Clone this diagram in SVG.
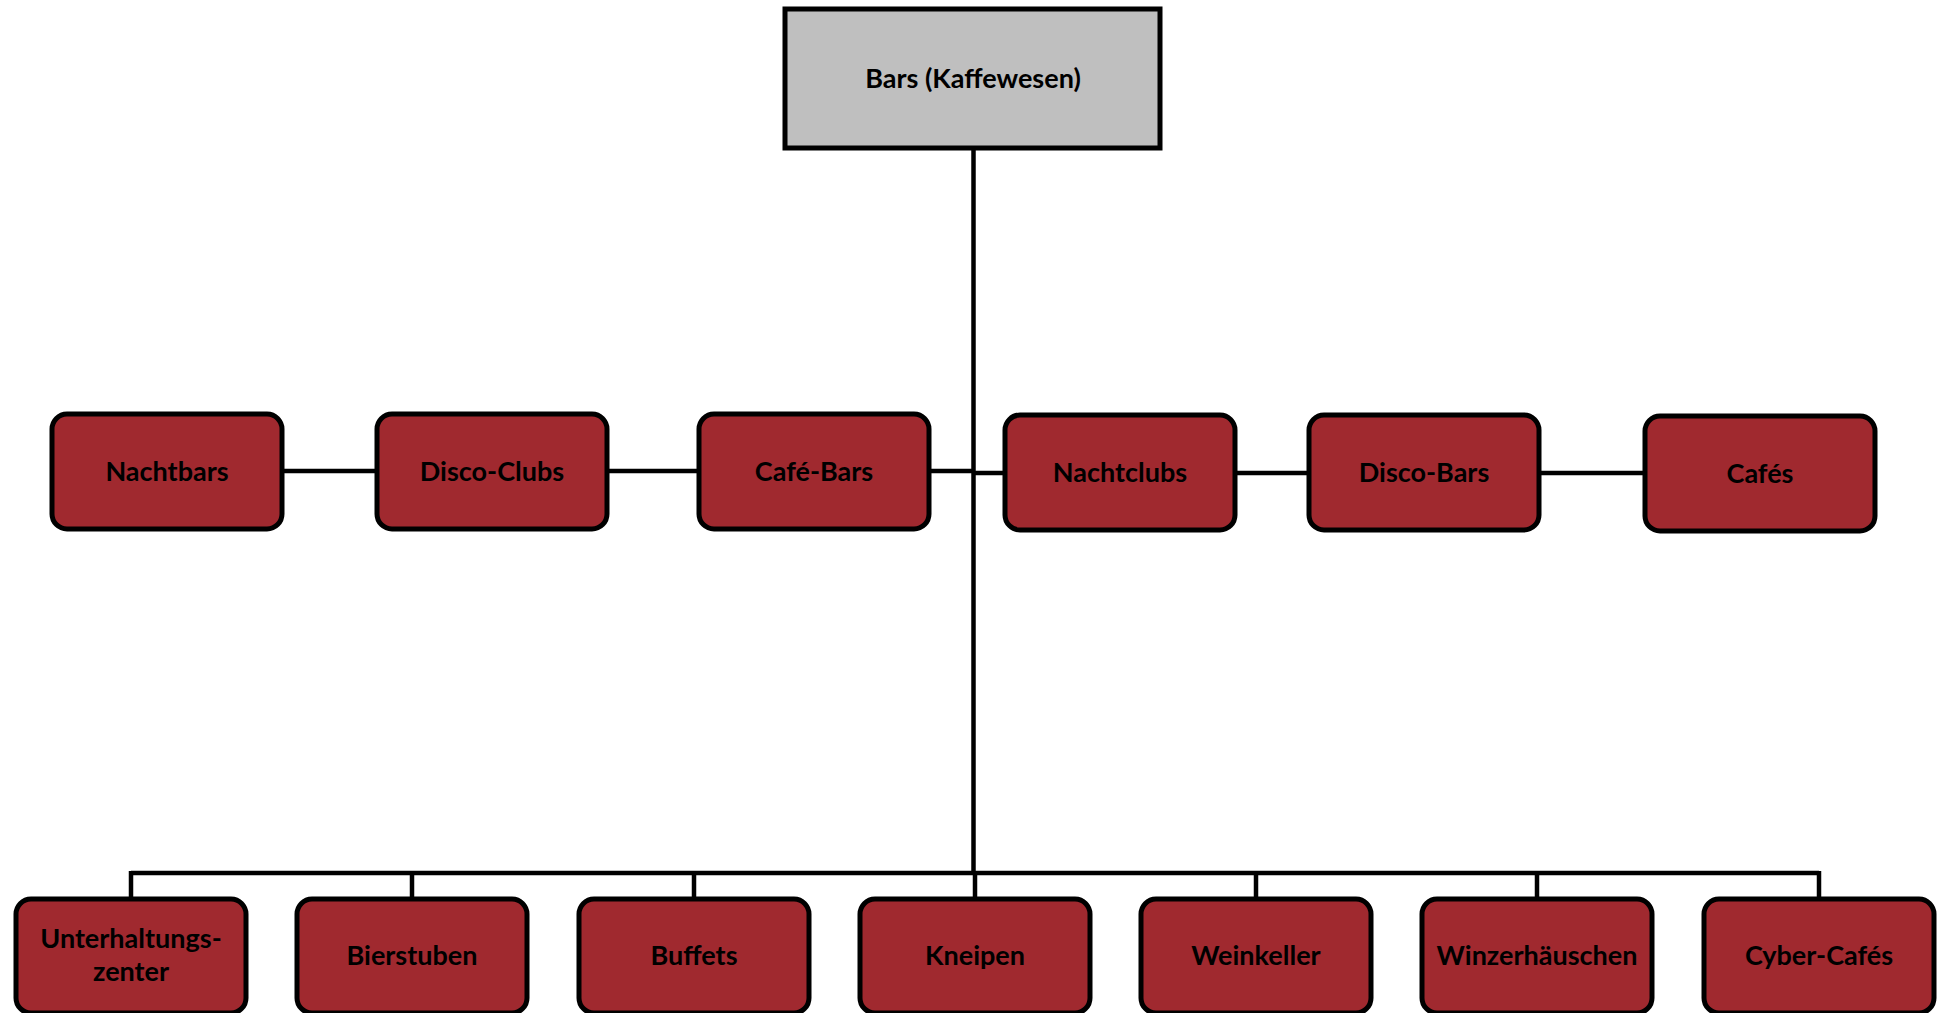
<svg xmlns="http://www.w3.org/2000/svg" width="1942" height="1013" viewBox="0 0 1942 1013">
<style>
.root{fill:#BFBFBF;stroke:#000;stroke-width:5}
.node{fill:#A0292F;stroke:#000;stroke-width:5}
.lbl{font-family:Lato,"Open Sans","Liberation Sans",sans-serif;font-weight:bold;font-size:27px;fill:#000;text-anchor:middle}
.conn{stroke:#000;stroke-width:4.5;fill:none}
</style>
<rect width="1942" height="1013" fill="#fff"/>
<g id="connectors">
<line class="conn" x1="973.5" y1="149" x2="973.5" y2="875"/>
<line class="conn" x1="131" y1="873" x2="1819" y2="873"/>
<line class="conn" x1="131" y1="871" x2="131" y2="899"/>
<line class="conn" x1="412" y1="871" x2="412" y2="899"/>
<line class="conn" x1="694" y1="871" x2="694" y2="899"/>
<line class="conn" x1="975" y1="871" x2="975" y2="899"/>
<line class="conn" x1="1256" y1="871" x2="1256" y2="899"/>
<line class="conn" x1="1537" y1="871" x2="1537" y2="899"/>
<line class="conn" x1="1819" y1="871" x2="1819" y2="899"/>
<line class="conn" x1="282" y1="471" x2="377" y2="471"/>
<line class="conn" x1="607" y1="471" x2="699" y2="471"/>
<line class="conn" x1="929" y1="471" x2="973.5" y2="471"/>
<line class="conn" x1="973.5" y1="473" x2="1005" y2="473"/>
<line class="conn" x1="1235" y1="473" x2="1309" y2="473"/>
<line class="conn" x1="1539" y1="473" x2="1645" y2="473"/>
</g>
<g id="root">
<rect class="root" x="785" y="9" width="375" height="139"/>
<text class="lbl" x="973" y="88">Bars (Kaffewesen)</text>
</g>
<g id="nachtbars">
<rect class="node" x="52" y="414" width="230" height="115" rx="15"/>
<text class="lbl" x="167" y="481">Nachtbars</text>
</g>
<g id="disco-clubs">
<rect class="node" x="377" y="414" width="230" height="115" rx="15"/>
<text class="lbl" x="492" y="481">Disco-Clubs</text>
</g>
<g id="cafe-bars">
<rect class="node" x="699" y="414" width="230" height="115" rx="15"/>
<text class="lbl" x="814" y="481">Café-Bars</text>
</g>
<g id="nachtclubs">
<rect class="node" x="1005" y="415" width="230" height="115" rx="15"/>
<text class="lbl" x="1120" y="482">Nachtclubs</text>
</g>
<g id="disco-bars">
<rect class="node" x="1309" y="415" width="230" height="115" rx="15"/>
<text class="lbl" x="1424" y="482">Disco-Bars</text>
</g>
<g id="cafes">
<rect class="node" x="1645" y="416" width="230" height="115" rx="15"/>
<text class="lbl" x="1760" y="483">Cafés</text>
</g>
<g id="unterhaltungszenter">
<rect class="node" x="16" y="899" width="230" height="114" rx="15"/>
<text class="lbl" x="131" y="948">Unterhaltungs-</text>
<text class="lbl" x="131" y="981">zenter</text>
</g>
<g id="bierstuben">
<rect class="node" x="297" y="899" width="230" height="114" rx="15"/>
<text class="lbl" x="412" y="965">Bierstuben</text>
</g>
<g id="buffets">
<rect class="node" x="579" y="899" width="230" height="114" rx="15"/>
<text class="lbl" x="694" y="965">Buffets</text>
</g>
<g id="kneipen">
<rect class="node" x="860" y="899" width="230" height="114" rx="15"/>
<text class="lbl" x="975" y="965">Kneipen</text>
</g>
<g id="weinkeller">
<rect class="node" x="1141" y="899" width="230" height="114" rx="15"/>
<text class="lbl" x="1256" y="965">Weinkeller</text>
</g>
<g id="winzerhaeuschen">
<rect class="node" x="1422" y="899" width="230" height="114" rx="15"/>
<text class="lbl" x="1537" y="965">Winzerhäuschen</text>
</g>
<g id="cyber-cafes">
<rect class="node" x="1704" y="899" width="230" height="114" rx="15"/>
<text class="lbl" x="1819" y="965">Cyber-Cafés</text>
</g>
</svg>
